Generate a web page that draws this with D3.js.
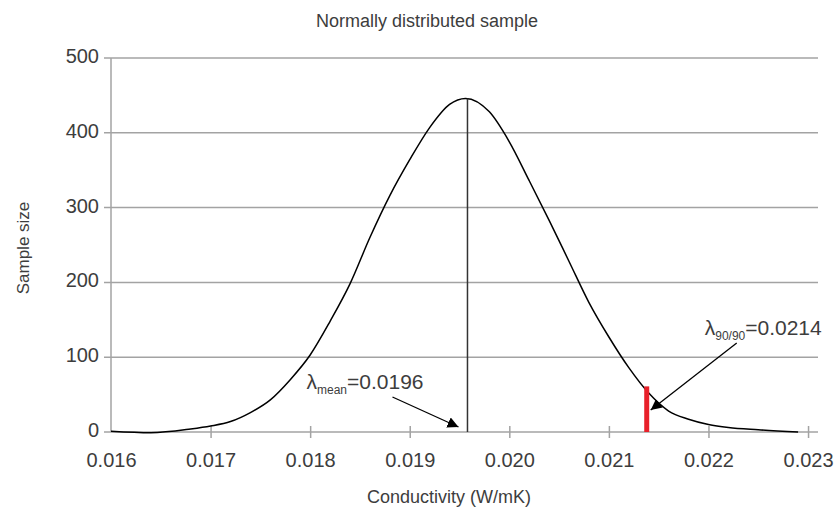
<!DOCTYPE html>
<html>
<head>
<meta charset="utf-8">
<script src="https://cdn.jsdelivr.net/npm/d3@7"></script>
<style>
  body { margin: 0; background: #fff; }
  svg text { font-family: "Liberation Sans", Arial, sans-serif; fill: #3d3d3d; }
</style>
</head>
<body>
<div id="chart"></div>
<script>
// conductivity (W/mK) vs. sample size
const conductivity = [0.0160, 0.0164, 0.0168, 0.0170, 0.0172, 0.0174, 0.0176, 0.0178, 0.0180,
  0.0182, 0.0184, 0.0186, 0.0188, 0.0190, 0.0192, 0.0194, 0.01956, 0.0198, 0.0200, 0.0202,
  0.0204, 0.0206, 0.0208, 0.0210, 0.0212, 0.0214, 0.0216, 0.0218, 0.0220, 0.0222, 0.0225, 0.0229];
const sampleSize = [1, -1, 4, 8, 14, 26, 43, 70, 103,
  148, 198, 260, 316, 364, 407, 438, 446, 428, 388, 336,
  283, 228, 173, 127, 86, 52, 28, 17, 10, 6, 3, 0];
const xTicks = [0.016, 0.017, 0.018, 0.019, 0.020, 0.021, 0.022, 0.023];
const yTicks = [0, 100, 200, 300, 400, 500];
const lambdaMean = 0.0196;
const lambda9090 = 0.0214;
const meanPeak = 446;   // sample size at the mean line
const bar9090 = 61;     // sample size where the red bar meets the curve

const data = conductivity.map((c, i) => ({x: c, y: sampleSize[i]}));

const width = 834, height = 518;
const svg = d3.select('#chart').append('svg')
  .attr('width', width)
  .attr('height', height);

const x = d3.scaleLinear().domain([0.016, 0.0231]).range([111, 818]);
const y = d3.scaleLinear().domain([0, 500]).range([432, 58]);

const grey = '#a3a3a3';

// horizontal grid
svg.append('g').selectAll('line')
  .data(yTicks.filter(d => d > 0))
  .join('line')
  .attr('x1', 104).attr('x2', 818)
  .attr('y1', d => y(d)).attr('y2', d => y(d))
  .attr('stroke', grey).attr('stroke-width', 1.5);

// y axis line
svg.append('line')
  .attr('x1', x(0.016)).attr('x2', x(0.016))
  .attr('y1', y(500)).attr('y2', y(0))
  .attr('stroke', grey).attr('stroke-width', 1.5);

// y tick labels
svg.append('g').selectAll('text')
  .data(yTicks)
  .join('text')
  .attr('x', 99)
  .attr('y', d => y(d) + 5)
  .attr('text-anchor', 'end')
  .attr('font-size', 20)
  .text(d => d);

// x axis
const xAxis = d3.axisBottom(x)
  .tickValues(xTicks)
  .tickFormat(d3.format('.3f'))
  .tickSize(6)
  .tickSizeOuter(0);
const gx = svg.append('g')
  .attr('transform', `translate(0,${y(0)})`)
  .call(xAxis);
gx.select('.domain').remove();
gx.append('line')
  .attr('x1', 104).attr('x2', 818)
  .attr('stroke', grey).attr('stroke-width', 1.5);
gx.selectAll('.tick line')
  .attr('y1', -6).attr('y2', 6)
  .attr('stroke', grey).attr('stroke-width', 1.5)
  .filter(d => d === 0.016).remove();
gx.selectAll('.tick text')
  .attr('y', 21)
  .attr('dy', '0.71em')
  .attr('font-size', 20)
  .attr('font-family', null)
  .attr('fill', null);

// curve
const line = d3.line()
  .x(d => x(d.x))
  .y(d => y(d.y))
  .curve(d3.curveMonotoneX);
svg.append('path')
  .datum(data)
  .attr('d', line)
  .attr('fill', 'none')
  .attr('stroke', '#000')
  .attr('stroke-width', 1.5);

// mean line
svg.append('line')
  .attr('x1', x(lambdaMean) - 2).attr('x2', x(lambdaMean) - 2)
  .attr('y1', y(meanPeak)).attr('y2', y(0))
  .attr('stroke', '#333').attr('stroke-width', 1.5);

// 90/90 bar
svg.append('line')
  .attr('x1', x(lambda9090) - 2).attr('x2', x(lambda9090) - 2)
  .attr('y1', y(bar9090)).attr('y2', y(0))
  .attr('stroke', '#e8202a').attr('stroke-width', 5);

// arrow heads
svg.append('defs').append('marker')
  .attr('id', 'arrow')
  .attr('viewBox', '0 0 10 10')
  .attr('refX', 10).attr('refY', 5)
  .attr('markerWidth', 11).attr('markerHeight', 11)
  .attr('markerUnits', 'userSpaceOnUse')
  .attr('orient', 'auto')
  .append('path')
  .attr('d', 'M0,0L10,5L0,10Z')
  .attr('fill', '#000');

const mx = x(lambdaMean), px = x(lambda9090);

svg.append('line')
  .attr('x1', mx - 77).attr('y1', 397)
  .attr('x2', mx - 11).attr('y2', 427)
  .attr('stroke', '#000').attr('stroke-width', 1.3)
  .attr('marker-end', 'url(#arrow)');

svg.append('line')
  .attr('x1', px + 88).attr('y1', 343)
  .attr('x2', px + 2).attr('y2', 410)
  .attr('stroke', '#000').attr('stroke-width', 1.3)
  .attr('marker-end', 'url(#arrow)');

// annotation labels
const mLab = svg.append('text')
  .attr('x', mx - 163).attr('y', 389)
  .attr('font-size', 21);
mLab.append('tspan').text('λ');
mLab.append('tspan').attr('font-size', 12).attr('dy', 5).text('mean');
mLab.append('tspan').attr('dy', -5).text('=' + lambdaMean.toFixed(4));

const pLab = svg.append('text')
  .attr('x', px + 56).attr('y', 335)
  .attr('font-size', 21);
pLab.append('tspan').text('λ');
pLab.append('tspan').attr('font-size', 12).attr('dy', 5).text('90/90');
pLab.append('tspan').attr('dy', -5).text('=' + lambda9090.toFixed(4));

// titles
svg.append('text')
  .attr('x', 427).attr('y', 27)
  .attr('text-anchor', 'middle')
  .attr('font-size', 18)
  .text('Normally distributed sample');

svg.append('text')
  .attr('x', 449).attr('y', 503)
  .attr('text-anchor', 'middle')
  .attr('font-size', 18)
  .text('Conductivity (W/mK)');

svg.append('text')
  .attr('transform', 'translate(29,248) rotate(-90)')
  .attr('text-anchor', 'middle')
  .attr('font-size', 17)
  .text('Sample size');
</script>
</body>
</html>
